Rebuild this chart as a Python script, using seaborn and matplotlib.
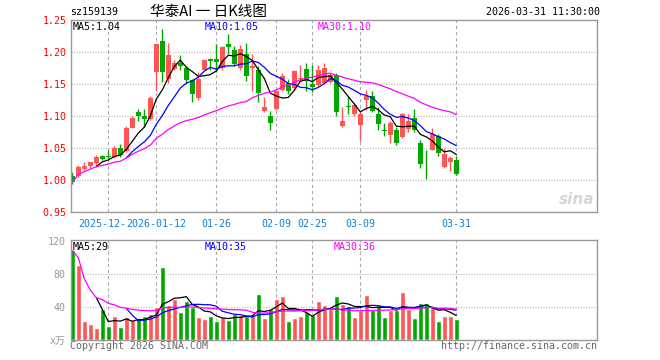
import numpy as np
import pandas as pd
import matplotlib
matplotlib.use("Agg")
import matplotlib.pyplot as plt
import seaborn as sns

# daily OHLC (yuan), 65 sessions ending 2026-03-31
opens = [1.007, 1.006, 1.018, 1.023, 1.027, 1.038, 1.038, 1.037, 1.050, 1.046,
         1.082, 1.107, 1.100, 1.096, 1.169, 1.217, 1.158, 1.174, 1.183, 1.175,
         1.157, 1.128, 1.173, 1.189, 1.190, 1.175, 1.213, 1.204, 1.175, 1.198,
         1.176, 1.173, 1.109, 1.100, 1.111, 1.141, 1.152, 1.144, 1.158, 1.174,
         1.151, 1.149, 1.152, 1.153, 1.164, 1.085, 1.116, 1.104, 1.086, 1.126,
         1.132, 1.104, 1.078, 1.071, 1.078, 1.067, 1.080, 1.098, 1.058, 1.040,
         1.048, 1.069, 1.021, 1.028, 1.032]
highs = [1.0125, 1.024, 1.028, 1.029, 1.040, 1.040, 1.047, 1.054, 1.057, 1.085,
         1.100, 1.111, 1.111, 1.132, 1.213, 1.236, 1.214, 1.188, 1.196, 1.178,
         1.159, 1.170, 1.190, 1.191, 1.213, 1.210, 1.228, 1.210, 1.212, 1.214,
         1.198, 1.178, 1.130, 1.109, 1.141, 1.167, 1.158, 1.172, 1.180, 1.184,
         1.180, 1.180, 1.184, 1.167, 1.168, 1.115, 1.131, 1.120, 1.107, 1.141,
         1.140, 1.114, 1.089, 1.092, 1.084, 1.105, 1.103, 1.111, 1.063, 1.047,
         1.081, 1.073, 1.050, 1.038, 1.038]
lows = [0.994, 1.005, 1.016, 1.018, 1.021, 1.031, 1.032, 1.035, 1.037, 1.045,
        1.081, 1.092, 1.084, 1.094, 1.139, 1.154, 1.152, 1.172, 1.172, 1.152,
        1.123, 1.126, 1.172, 1.173, 1.170, 1.173, 1.198, 1.178, 1.173, 1.155,
        1.139, 1.123, 1.106, 1.078, 1.110, 1.139, 1.135, 1.141, 1.154, 1.140,
        1.138, 1.147, 1.151, 1.152, 1.100, 1.083, 1.104, 1.100, 1.062, 1.110,
        1.107, 1.079, 1.069, 1.059, 1.055, 1.066, 1.076, 1.075, 1.019, 1.002,
        1.047, 1.038, 1.019, 1.015, 1.008]
closes = [0.997, 1.021, 1.023, 1.029, 1.037, 1.034, 1.036, 1.050, 1.040, 1.081,
          1.098, 1.100, 1.096, 1.128, 1.213, 1.169, 1.196, 1.183, 1.178, 1.157,
          1.135, 1.159, 1.188, 1.187, 1.185, 1.209, 1.208, 1.182, 1.205, 1.163,
          1.178, 1.136, 1.114, 1.090, 1.140, 1.163, 1.140, 1.170, 1.160, 1.155,
          1.146, 1.173, 1.176, 1.165, 1.106, 1.093, 1.114, 1.118, 1.104, 1.132,
          1.109, 1.088, 1.077, 1.090, 1.059, 1.104, 1.092, 1.078, 1.026, 1.039,
          1.073, 1.043, 1.041, 1.035, 1.010]
# volume (10k lots)
volumes = [108.7, 91.3, 23.4, 19.4, 15.0, 38.0, 17.4, 29.5, 16.2, 28.3,
           24.2, 27.0, 29.5, 31.5, 40.8, 88.9, 42.8, 50.5, 34.3, 47.7,
           40.8, 28.3, 25.9, 29.5, 23.4, 28.3, 24.6, 31.9, 30.7, 29.5,
           30.7, 56.2, 27.0, 38.0, 50.5, 53.7, 23.4, 27.0, 29.5, 34.3,
           30.7, 47.7, 42.8, 38.0, 53.7, 43.6, 41.6, 28.3, 36.8, 54.5,
           36.8, 42.8, 28.3, 36.8, 36.8, 58.6, 38.4, 27.0, 45.2, 45.2,
           41.6, 23.4, 29.5, 29.5, 25.9]

tick_pos = [6, 14, 24, 34, 40, 48, 64]
tick_labels = ["2025-12-29", "2026-01-12", "01-26", "02-09", "02-25", "03-09", "03-31"]
price_ticks = [0.95, 1.00, 1.05, 1.10, 1.15, 1.20, 1.25]
vol_ticks = [0, 40, 80, 120]
vol_tick_labels = ["x万", "40", "80", "120"]

RED = "#ff5555"
GREEN = "#00a800"
GRID = "#aaaaaa"
W, H = 660, 360

sns.set_theme(style="white")
plt.rcParams["font.family"] = ["DejaVu Sans Mono", "Noto Sans CJK SC"]

df = pd.DataFrame({"open": opens, "high": highs, "low": lows, "close": closes, "vol": volumes})
df["x"] = np.arange(len(df))
df["dir"] = np.where(df["close"] >= df["open"], "up", "down")
colors = np.where(df["dir"] == "up", RED, GREEN)
for w in (5, 10):
    df[f"ma{w}"] = df["close"].rolling(w).mean()
    df[f"vma{w}"] = df["vol"].rolling(w).mean()
df["ma30"] = df["close"].rolling(30, min_periods=1).mean()
df["vma30"] = df["vol"].rolling(30, min_periods=1).mean()

fig = plt.figure(figsize=(W / 100, H / 100), dpi=100)
ax = fig.add_axes([71 / W, 1 - 212.3 / H, 526 / W, 192 / H])
axv = fig.add_axes([71 / W, 1 - 340.3 / H, 526 / W, 100 / H])

# candles
ax.vlines(df["x"], df["low"], df["high"], colors=colors, lw=1)
body_lo = np.minimum(df["open"], df["close"])
body_h = np.maximum((df["close"] - df["open"]).abs(), 0.0012)
ax.bar(df["x"], body_h, bottom=body_lo, width=0.78, color=colors, linewidth=0)
for col, c in (("ma5", "black"), ("ma10", "blue"), ("ma30", "magenta")):
    sns.lineplot(data=df, x="x", y=col, ax=ax, color=c, lw=0.9)

# volume
sns.barplot(data=df, x="x", y="vol", hue="dir", palette={"up": RED, "down": GREEN},
            saturation=1, width=0.78, dodge=False, legend=False, ax=axv)
for col, c in (("vma5", "black"), ("vma10", "blue"), ("vma30", "magenta")):
    axv.plot(df["x"], df[col], color=c, lw=0.9)

for a in (ax, axv):
    a.set_xlim(-0.22, 87.45)
    a.set_xlabel("")
    a.set_ylabel("")
    for s in a.spines.values():
        s.set_color("#999999")
        s.set_linewidth(1.0)
    for t in tick_pos:
        a.axvline(t, color=GRID, lw=0.8, ls=(0, (3, 2.5)), zorder=0)

ax.set_ylim(0.95, 1.25)
for v in price_ticks[1:-1]:
    ax.axhline(v, color=GRID, lw=0.8, ls=(0, (0.8, 1.6)), zorder=0)
ax.set_yticks(price_ticks)
ax.set_yticklabels([f"{v:.2f}" for v in price_ticks], color="red", fontsize=7.2)
ax.set_xticks(tick_pos)
ax.set_xticklabels(tick_labels, color="#0a84d6", fontsize=7.2)
for lbl in ax.get_xticklabels():
    lbl.set_bbox(dict(facecolor="white", edgecolor="none", pad=0))
ax.tick_params(axis="x", direction="in", length=4, color=GRID, pad=5)
ax.tick_params(axis="y", length=0, pad=3)

axv.set_ylim(0, 121)
for v in (40, 80):
    axv.axhline(v, color=GRID, lw=0.8, ls=(0, (0.8, 1.6)), zorder=0)
axv.set_yticks(vol_ticks)
axv.set_yticklabels(vol_tick_labels, color="#999999", fontsize=7.2)
axv.set_xticks([])
axv.tick_params(axis="y", length=0, pad=4)

def ftext(x, y, s, **kw):
    fig.text(x / W, 1 - y / H, s, va="center", **kw)

ftext(70, 12, "sz159139", fontsize=7.2, color="black")
ftext(150, 12, "华泰AI 一 日K线图", fontsize=10.5, color="black",
      family=["Noto Sans CJK SC", "DejaVu Sans"])
ftext(600, 12, "2026-03-31 11:30:00", fontsize=7.2, color="black", ha="right")

ftext(73, 27, "MA5:1.04", fontsize=7.2, color="black")
ftext(205, 27, "MA10:1.05", fontsize=7.2, color="blue")
ftext(318, 27, "MA30:1.10", fontsize=7.2, color="magenta")
ftext(73, 247, "MA5:29", fontsize=7.2, color="black")
ftext(205, 247, "MA10:35", fontsize=7.2, color="blue")
ftext(334, 247, "MA30:36", fontsize=7.2, color="magenta")

ftext(594, 200, "sina", fontsize=11, color="#d6d6d6", ha="right",
      family="DejaVu Sans", style="italic", weight="bold")
ftext(70, 346, "Copyright 2026 SINA.COM", fontsize=7.2, color="#666666")
ftext(597, 346, "http://finance.sina.com.cn", fontsize=7.2, color="#666666", ha="right")

fig.savefig("out.png", dpi=100, facecolor="white")
